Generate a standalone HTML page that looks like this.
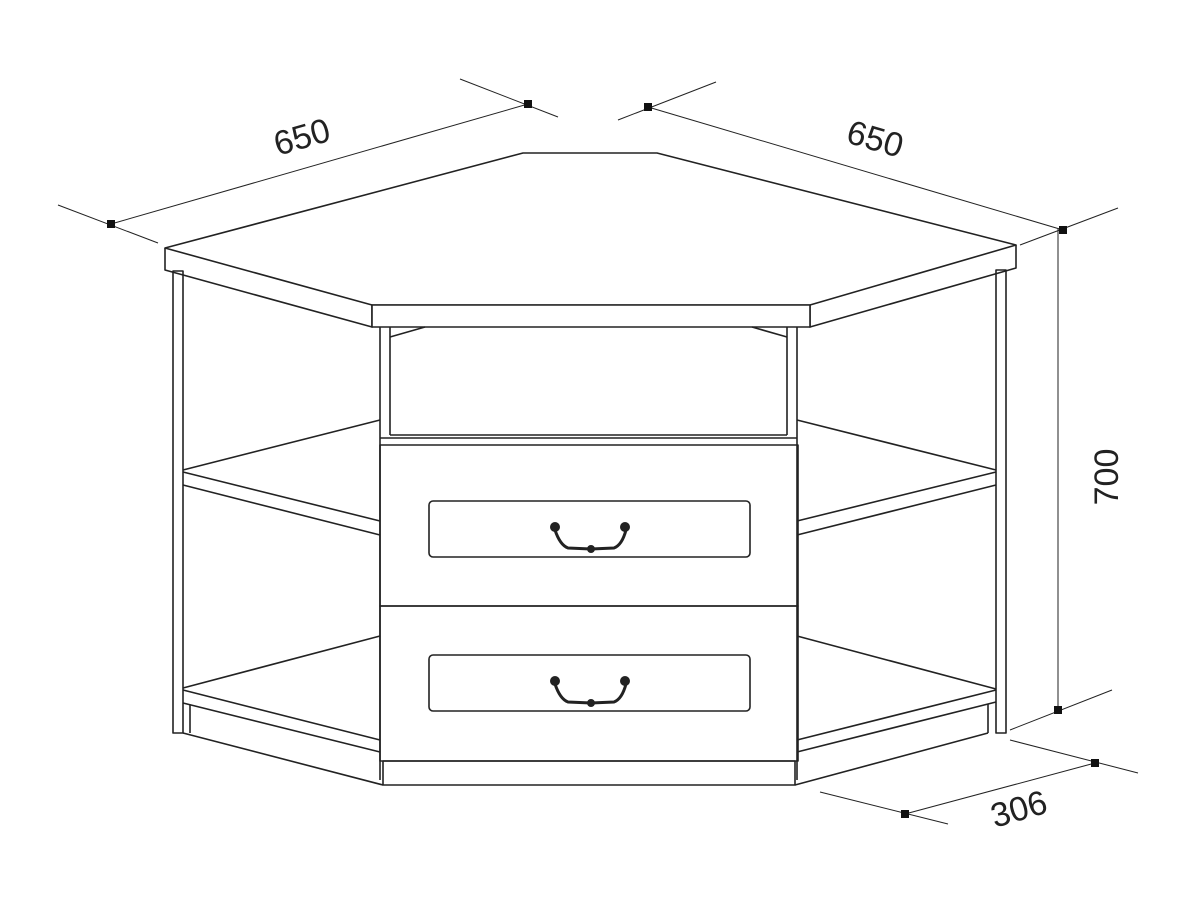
<!DOCTYPE html>
<html><head><style>html,body{margin:0;background:#fff}svg{display:block}</style></head>
<body>
<svg width="1200" height="900" viewBox="0 0 1200 900" xmlns="http://www.w3.org/2000/svg">
<g fill="none" stroke="#222" stroke-width="1.6" stroke-linejoin="round">
<!-- top -->
<polygon points="165,248 523,153 657,153 1016,245 810,305 372,305" fill="#fff"/>
<polyline points="165,248 165,270 372,327 372,305"/>
<polyline points="1016,245 1016,268 810,327 810,305"/>
<rect x="372" y="305" width="438" height="22" fill="#fff"/>
<!-- legs -->
<rect x="173" y="271" width="10" height="462"/>
<rect x="996" y="270" width="10" height="463"/>
<!-- center column -->
<line x1="380" y1="327" x2="380" y2="780"/>
<line x1="390" y1="327" x2="390" y2="435"/>
<line x1="787" y1="327" x2="787" y2="435"/>
<line x1="797" y1="327" x2="797" y2="780"/>
<line x1="390" y1="337" x2="425" y2="327"/>
<line x1="787" y1="337" x2="752" y2="327"/>
<line x1="390" y1="435" x2="787" y2="435"/>
<line x1="380" y1="438" x2="797" y2="438"/>
<!-- drawers -->
<rect x="380" y="445" width="418" height="161"/>
<rect x="380" y="606" width="418" height="155"/>
<rect x="429" y="501" width="321" height="56" rx="4"/>
<rect x="429" y="655" width="321" height="56" rx="4"/>
<rect x="383" y="761" width="412" height="24"/>
<!-- left shelves -->
<line x1="183" y1="470" x2="380" y2="420"/>
<line x1="183" y1="472" x2="380" y2="521"/>
<line x1="183" y1="485" x2="380" y2="535"/>
<line x1="183" y1="688" x2="380" y2="636"/>
<line x1="183" y1="690" x2="380" y2="740"/>
<line x1="183" y1="703" x2="380" y2="752"/>
<line x1="190" y1="705" x2="190" y2="733"/>
<line x1="183" y1="733" x2="383" y2="785"/>
<!-- right shelves -->
<line x1="797" y1="420" x2="996" y2="470"/>
<line x1="797" y1="521" x2="996" y2="472"/>
<line x1="797" y1="535" x2="996" y2="485"/>
<line x1="797" y1="636" x2="996" y2="689"/>
<line x1="797" y1="740" x2="996" y2="690"/>
<line x1="797" y1="752" x2="996" y2="702"/>
<line x1="988" y1="704" x2="988" y2="733"/>
<line x1="795" y1="785" x2="988" y2="733"/>
</g>
<!-- handles -->
<g fill="#222" stroke="#222">
<g id="h1">
<path d="M555,530 Q560,545 568,548 L591,549 L614,548 Q622,545 626,530" fill="none" stroke-width="3"/>
<circle cx="555" cy="527" r="4.5"/><circle cx="625" cy="527" r="4.5"/><circle cx="591" cy="549" r="3.5"/>
</g>
<use href="#h1" y="154"/>
</g>
<!-- dimensions -->
<g stroke="#222" stroke-width="1">
<line x1="58" y1="205" x2="158" y2="243"/>
<line x1="460" y1="79" x2="558" y2="117"/>
<line x1="111" y1="224" x2="528" y2="104"/>
<line x1="618" y1="120" x2="716" y2="82"/>
<line x1="1020" y1="245" x2="1118" y2="208"/>
<line x1="648" y1="107" x2="1063" y2="230"/>
<line x1="1058" y1="228" x2="1058" y2="710"/>
<line x1="1010" y1="730" x2="1112" y2="690"/>
<line x1="820" y1="792" x2="948" y2="824"/>
<line x1="1010" y1="740" x2="1138" y2="773"/>
<line x1="905" y1="814" x2="1095" y2="763"/>
</g>
<g fill="#111">
<rect x="107" y="220" width="8" height="8"/>
<rect x="524" y="100" width="8" height="8"/>
<rect x="644" y="103" width="8" height="8"/>
<rect x="1059" y="226" width="8" height="8"/>
<rect x="1054" y="706" width="8" height="8"/>
<rect x="901" y="810" width="8" height="8"/>
<rect x="1091" y="759" width="8" height="8"/>
</g>
<g font-family="Liberation Sans, sans-serif" font-size="34" fill="#222" text-anchor="middle">
<text transform="translate(305,148) rotate(-16)">650</text>
<text transform="translate(872,150) rotate(16)">650</text>
<text transform="translate(1118,477) rotate(-90)">700</text>
<text transform="translate(1022,820) rotate(-16)">306</text>
</g>
</svg>
</body></html>
